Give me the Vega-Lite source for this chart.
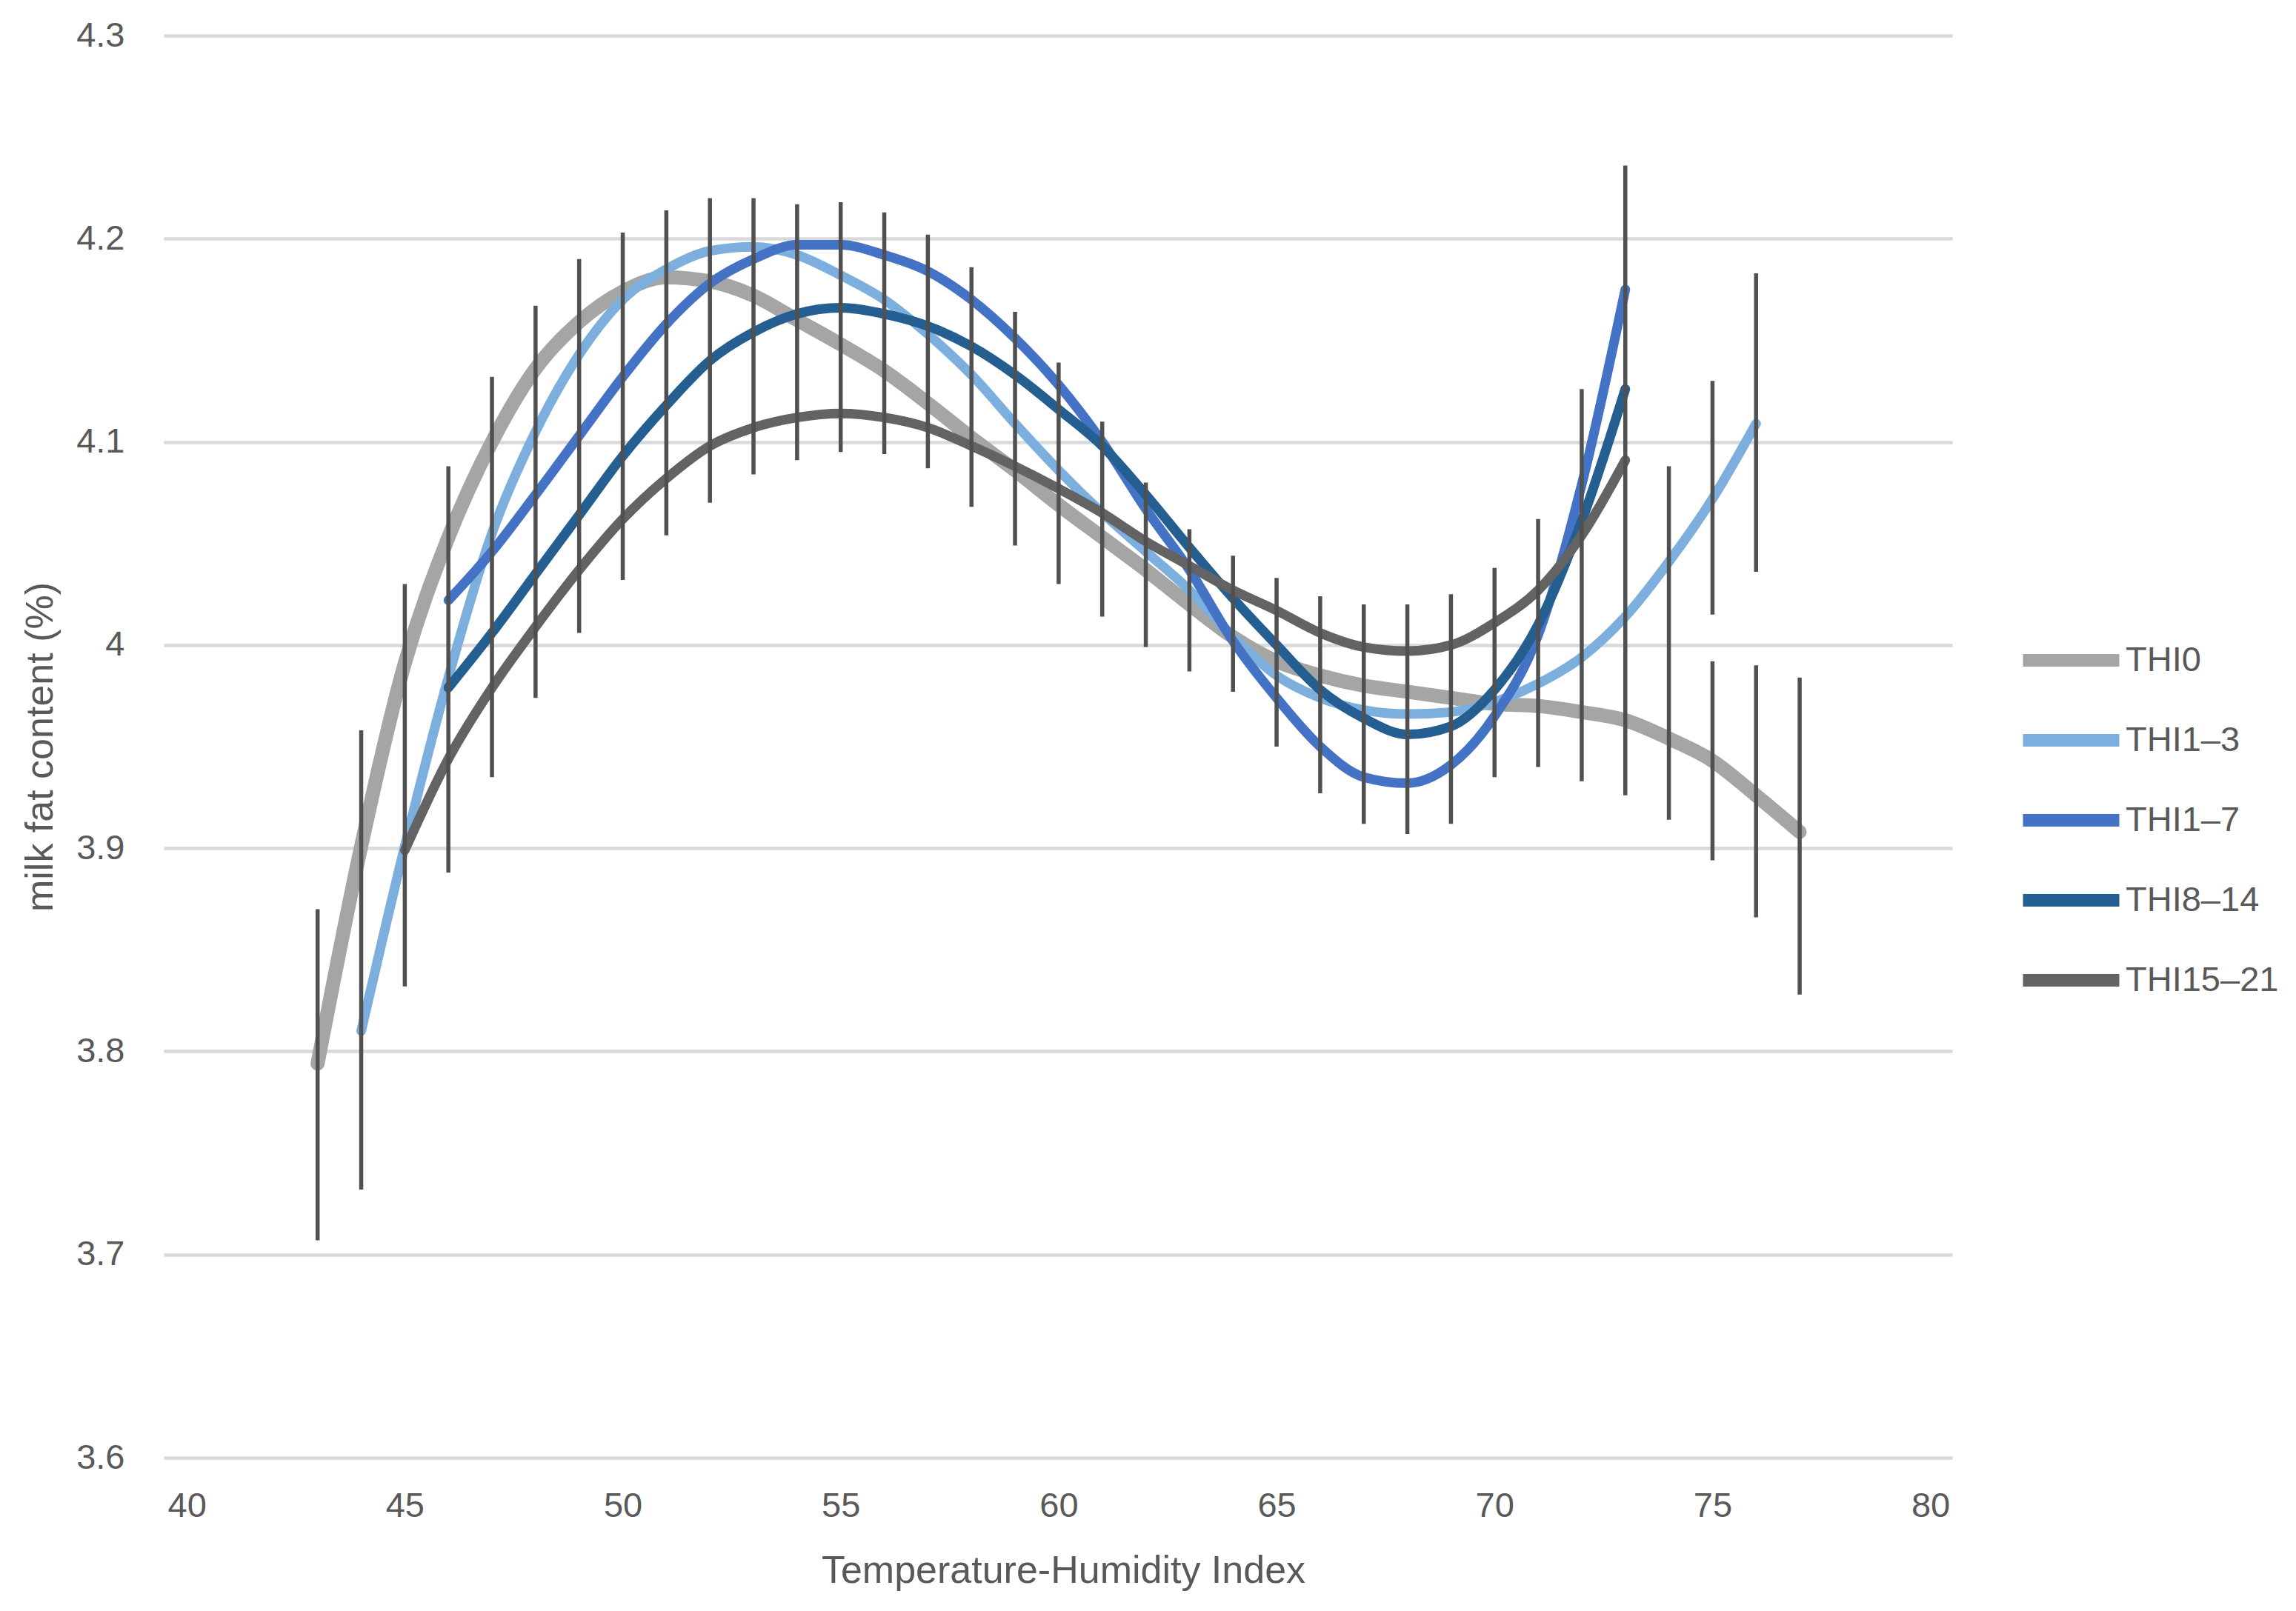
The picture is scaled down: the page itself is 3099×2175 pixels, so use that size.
{
  "$schema": "https://vega.github.io/schema/vega-lite/v6.json",
  "width": 2414,
  "height": 1920,
  "autosize": {"type": "none"},
  "padding": {"left": 221, "top": 48, "right": 464, "bottom": 207},
  "background": "white",
  "datasets": {
    "series": [
      {"thi": 43, "fat": 3.794, "group": "THI0"},
      {"thi": 44, "fat": 3.901, "group": "THI0"},
      {"thi": 45, "fat": 3.991, "group": "THI0"},
      {"thi": 46, "fat": 4.053, "group": "THI0"},
      {"thi": 47, "fat": 4.100, "group": "THI0"},
      {"thi": 48, "fat": 4.136, "group": "THI0"},
      {"thi": 49, "fat": 4.159, "group": "THI0"},
      {"thi": 50, "fat": 4.174, "group": "THI0"},
      {"thi": 51, "fat": 4.181, "group": "THI0"},
      {"thi": 52, "fat": 4.179, "group": "THI0"},
      {"thi": 53, "fat": 4.172, "group": "THI0"},
      {"thi": 54, "fat": 4.160, "group": "THI0"},
      {"thi": 55, "fat": 4.148, "group": "THI0"},
      {"thi": 56, "fat": 4.135, "group": "THI0"},
      {"thi": 57, "fat": 4.119, "group": "THI0"},
      {"thi": 58, "fat": 4.102, "group": "THI0"},
      {"thi": 59, "fat": 4.086, "group": "THI0"},
      {"thi": 60, "fat": 4.069, "group": "THI0"},
      {"thi": 61, "fat": 4.053, "group": "THI0"},
      {"thi": 62, "fat": 4.037, "group": "THI0"},
      {"thi": 63, "fat": 4.020, "group": "THI0"},
      {"thi": 64, "fat": 4.004, "group": "THI0"},
      {"thi": 65, "fat": 3.992, "group": "THI0"},
      {"thi": 66, "fat": 3.985, "group": "THI0"},
      {"thi": 67, "fat": 3.980, "group": "THI0"},
      {"thi": 68, "fat": 3.977, "group": "THI0"},
      {"thi": 69, "fat": 3.974, "group": "THI0"},
      {"thi": 70, "fat": 3.971, "group": "THI0"},
      {"thi": 71, "fat": 3.970, "group": "THI0"},
      {"thi": 72, "fat": 3.967, "group": "THI0"},
      {"thi": 73, "fat": 3.963, "group": "THI0"},
      {"thi": 74, "fat": 3.954, "group": "THI0"},
      {"thi": 75, "fat": 3.943, "group": "THI0"},
      {"thi": 76, "fat": 3.926, "group": "THI0"},
      {"thi": 77, "fat": 3.908, "group": "THI0"},

      {"thi": 44, "fat": 3.810, "group": "THI1–3"},
      {"thi": 45, "fat": 3.901, "group": "THI1–3"},
      {"thi": 46, "fat": 3.984, "group": "THI1–3"},
      {"thi": 47, "fat": 4.055, "group": "THI1–3"},
      {"thi": 48, "fat": 4.105, "group": "THI1–3"},
      {"thi": 49, "fat": 4.143, "group": "THI1–3"},
      {"thi": 50, "fat": 4.170, "group": "THI1–3"},
      {"thi": 51, "fat": 4.185, "group": "THI1–3"},
      {"thi": 52, "fat": 4.194, "group": "THI1–3"},
      {"thi": 53, "fat": 4.196, "group": "THI1–3"},
      {"thi": 54, "fat": 4.192, "group": "THI1–3"},
      {"thi": 55, "fat": 4.182, "group": "THI1–3"},
      {"thi": 56, "fat": 4.170, "group": "THI1–3"},
      {"thi": 57, "fat": 4.153, "group": "THI1–3"},
      {"thi": 58, "fat": 4.133, "group": "THI1–3"},
      {"thi": 59, "fat": 4.109, "group": "THI1–3"},
      {"thi": 60, "fat": 4.086, "group": "THI1–3"},
      {"thi": 61, "fat": 4.065, "group": "THI1–3"},
      {"thi": 62, "fat": 4.046, "group": "THI1–3"},
      {"thi": 63, "fat": 4.027, "group": "THI1–3"},
      {"thi": 64, "fat": 4.004, "group": "THI1–3"},
      {"thi": 65, "fat": 3.985, "group": "THI1–3"},
      {"thi": 66, "fat": 3.974, "group": "THI1–3"},
      {"thi": 67, "fat": 3.968, "group": "THI1–3"},
      {"thi": 68, "fat": 3.966, "group": "THI1–3"},
      {"thi": 69, "fat": 3.967, "group": "THI1–3"},
      {"thi": 70, "fat": 3.972, "group": "THI1–3"},
      {"thi": 71, "fat": 3.981, "group": "THI1–3"},
      {"thi": 72, "fat": 3.994, "group": "THI1–3"},
      {"thi": 73, "fat": 4.014, "group": "THI1–3"},
      {"thi": 74, "fat": 4.041, "group": "THI1–3"},
      {"thi": 75, "fat": 4.072, "group": "THI1–3"},
      {"thi": 76, "fat": 4.109, "group": "THI1–3"},

      {"thi": 46, "fat": 4.022, "group": "THI1–7"},
      {"thi": 47, "fat": 4.046, "group": "THI1–7"},
      {"thi": 48, "fat": 4.074, "group": "THI1–7"},
      {"thi": 49, "fat": 4.103, "group": "THI1–7"},
      {"thi": 50, "fat": 4.132, "group": "THI1–7"},
      {"thi": 51, "fat": 4.158, "group": "THI1–7"},
      {"thi": 52, "fat": 4.178, "group": "THI1–7"},
      {"thi": 53, "fat": 4.190, "group": "THI1–7"},
      {"thi": 54, "fat": 4.197, "group": "THI1–7"},
      {"thi": 55, "fat": 4.197, "group": "THI1–7"},
      {"thi": 56, "fat": 4.192, "group": "THI1–7"},
      {"thi": 57, "fat": 4.184, "group": "THI1–7"},
      {"thi": 58, "fat": 4.170, "group": "THI1–7"},
      {"thi": 59, "fat": 4.151, "group": "THI1–7"},
      {"thi": 60, "fat": 4.128, "group": "THI1–7"},
      {"thi": 61, "fat": 4.100, "group": "THI1–7"},
      {"thi": 62, "fat": 4.067, "group": "THI1–7"},
      {"thi": 63, "fat": 4.037, "group": "THI1–7"},
      {"thi": 64, "fat": 4.002, "group": "THI1–7"},
      {"thi": 65, "fat": 3.974, "group": "THI1–7"},
      {"thi": 66, "fat": 3.950, "group": "THI1–7"},
      {"thi": 67, "fat": 3.935, "group": "THI1–7"},
      {"thi": 68, "fat": 3.932, "group": "THI1–7"},
      {"thi": 69, "fat": 3.941, "group": "THI1–7"},
      {"thi": 70, "fat": 3.965, "group": "THI1–7"},
      {"thi": 71, "fat": 4.005, "group": "THI1–7"},
      {"thi": 72, "fat": 4.079, "group": "THI1–7"},
      {"thi": 73, "fat": 4.175, "group": "THI1–7"},

      {"thi": 46, "fat": 3.979, "group": "THI8–14"},
      {"thi": 47, "fat": 4.006, "group": "THI8–14"},
      {"thi": 48, "fat": 4.035, "group": "THI8–14"},
      {"thi": 49, "fat": 4.064, "group": "THI8–14"},
      {"thi": 50, "fat": 4.093, "group": "THI8–14"},
      {"thi": 51, "fat": 4.118, "group": "THI8–14"},
      {"thi": 52, "fat": 4.140, "group": "THI8–14"},
      {"thi": 53, "fat": 4.154, "group": "THI8–14"},
      {"thi": 54, "fat": 4.163, "group": "THI8–14"},
      {"thi": 55, "fat": 4.166, "group": "THI8–14"},
      {"thi": 56, "fat": 4.163, "group": "THI8–14"},
      {"thi": 57, "fat": 4.157, "group": "THI8–14"},
      {"thi": 58, "fat": 4.147, "group": "THI8–14"},
      {"thi": 59, "fat": 4.133, "group": "THI8–14"},
      {"thi": 60, "fat": 4.116, "group": "THI8–14"},
      {"thi": 61, "fat": 4.098, "group": "THI8–14"},
      {"thi": 62, "fat": 4.074, "group": "THI8–14"},
      {"thi": 63, "fat": 4.048, "group": "THI8–14"},
      {"thi": 64, "fat": 4.023, "group": "THI8–14"},
      {"thi": 65, "fat": 4.000, "group": "THI8–14"},
      {"thi": 66, "fat": 3.978, "group": "THI8–14"},
      {"thi": 67, "fat": 3.964, "group": "THI8–14"},
      {"thi": 68, "fat": 3.956, "group": "THI8–14"},
      {"thi": 69, "fat": 3.960, "group": "THI8–14"},
      {"thi": 70, "fat": 3.978, "group": "THI8–14"},
      {"thi": 71, "fat": 4.010, "group": "THI8–14"},
      {"thi": 72, "fat": 4.061, "group": "THI8–14"},
      {"thi": 73, "fat": 4.126, "group": "THI8–14"},

      {"thi": 45, "fat": 3.899, "group": "THI15–21"},
      {"thi": 46, "fat": 3.944, "group": "THI15–21"},
      {"thi": 47, "fat": 3.979, "group": "THI15–21"},
      {"thi": 48, "fat": 4.009, "group": "THI15–21"},
      {"thi": 49, "fat": 4.037, "group": "THI15–21"},
      {"thi": 50, "fat": 4.062, "group": "THI15–21"},
      {"thi": 51, "fat": 4.082, "group": "THI15–21"},
      {"thi": 52, "fat": 4.098, "group": "THI15–21"},
      {"thi": 53, "fat": 4.107, "group": "THI15–21"},
      {"thi": 54, "fat": 4.112, "group": "THI15–21"},
      {"thi": 55, "fat": 4.114, "group": "THI15–21"},
      {"thi": 56, "fat": 4.112, "group": "THI15–21"},
      {"thi": 57, "fat": 4.107, "group": "THI15–21"},
      {"thi": 58, "fat": 4.098, "group": "THI15–21"},
      {"thi": 59, "fat": 4.088, "group": "THI15–21"},
      {"thi": 60, "fat": 4.077, "group": "THI15–21"},
      {"thi": 61, "fat": 4.065, "group": "THI15–21"},
      {"thi": 62, "fat": 4.051, "group": "THI15–21"},
      {"thi": 63, "fat": 4.039, "group": "THI15–21"},
      {"thi": 64, "fat": 4.027, "group": "THI15–21"},
      {"thi": 65, "fat": 4.017, "group": "THI15–21"},
      {"thi": 66, "fat": 4.006, "group": "THI15–21"},
      {"thi": 67, "fat": 3.999, "group": "THI15–21"},
      {"thi": 68, "fat": 3.997, "group": "THI15–21"},
      {"thi": 69, "fat": 4.000, "group": "THI15–21"},
      {"thi": 70, "fat": 4.011, "group": "THI15–21"},
      {"thi": 71, "fat": 4.027, "group": "THI15–21"},
      {"thi": 72, "fat": 4.054, "group": "THI15–21"},
      {"thi": 73, "fat": 4.091, "group": "THI15–21"}
    ],
    "errors": [
      {"thi": 43, "lo": 3.707, "hi": 3.870},
      {"thi": 44, "lo": 3.732, "hi": 3.958},
      {"thi": 45, "lo": 3.832, "hi": 4.030},
      {"thi": 46, "lo": 3.888, "hi": 4.088},
      {"thi": 47, "lo": 3.935, "hi": 4.132},
      {"thi": 48, "lo": 3.974, "hi": 4.167},
      {"thi": 49, "lo": 4.006, "hi": 4.190},
      {"thi": 50, "lo": 4.032, "hi": 4.203},
      {"thi": 51, "lo": 4.054, "hi": 4.214},
      {"thi": 52, "lo": 4.070, "hi": 4.220},
      {"thi": 53, "lo": 4.084, "hi": 4.220},
      {"thi": 54, "lo": 4.091, "hi": 4.217},
      {"thi": 55, "lo": 4.095, "hi": 4.218},
      {"thi": 56, "lo": 4.094, "hi": 4.213},
      {"thi": 57, "lo": 4.087, "hi": 4.202},
      {"thi": 58, "lo": 4.068, "hi": 4.186},
      {"thi": 59, "lo": 4.049, "hi": 4.164},
      {"thi": 60, "lo": 4.030, "hi": 4.139},
      {"thi": 61, "lo": 4.014, "hi": 4.110},
      {"thi": 62, "lo": 3.999, "hi": 4.080},
      {"thi": 63, "lo": 3.987, "hi": 4.057},
      {"thi": 64, "lo": 3.977, "hi": 4.044},
      {"thi": 65, "lo": 3.950, "hi": 4.033},
      {"thi": 66, "lo": 3.927, "hi": 4.024},
      {"thi": 67, "lo": 3.912, "hi": 4.020},
      {"thi": 68, "lo": 3.907, "hi": 4.020},
      {"thi": 69, "lo": 3.912, "hi": 4.025},
      {"thi": 70, "lo": 3.935, "hi": 4.038},
      {"thi": 71, "lo": 3.940, "hi": 4.062},
      {"thi": 72, "lo": 3.933, "hi": 4.126},
      {"thi": 73, "lo": 3.926, "hi": 4.236},
      {"thi": 74, "lo": 3.914, "hi": 4.088},
      {"thi": 75, "lo": 3.894, "hi": 3.992},
      {"thi": 75, "lo": 4.015, "hi": 4.130},
      {"thi": 76, "lo": 3.866, "hi": 3.990},
      {"thi": 76, "lo": 4.036, "hi": 4.183},
      {"thi": 77, "lo": 3.828, "hi": 3.984}
    ]
  },
  "layer": [
    {
      "data": {"name": "series"},
      "mark": {"type": "line", "interpolate": "monotone", "strokeCap": "round", "strokeJoin": "round"},
      "encoding": {
        "x": {
          "field": "thi", "type": "quantitative",
          "scale": {"domain": [39.47, 80.5], "nice": false, "zero": false},
          "axis": {
            "values": [40, 45, 50, 55, 60, 65, 70, 75, 80],
            "format": "d",
            "grid": false, "domain": false, "ticks": false, "tickSize": 0,
            "labelPadding": 65, "labelBaseline": "middle",
            "title": "Temperature-Humidity Index",
            "titleX": 1214, "titleY": 152, "titleBaseline": "middle", "titleAlign": "center"
          }
        },
        "y": {
          "field": "fat", "type": "quantitative",
          "scale": {"domain": [3.6, 4.3], "nice": false, "zero": false},
          "axis": {
            "values": [3.6, 3.7, 3.8, 3.9, 4.0, 4.1, 4.2, 4.3],
            "format": ".1~f",
            "grid": true, "domain": false, "ticks": false, "tickSize": 0,
            "labelPadding": 53,
            "title": "milk fat content (%)",
            "titleX": -167, "titleY": 960, "titleBaseline": "middle", "titleAlign": "center", "titleAngle": -90
          }
        },
        "color": {
          "field": "group", "type": "nominal",
          "scale": {
            "domain": ["THI0", "THI1–3", "THI1–7", "THI8–14", "THI15–21"],
            "range": ["#A5A5A5", "#7CAFDD", "#4472C4", "#255E91", "#636363"]
          },
          "legend": {
            "title": null,
            "orient": "none",
            "legendX": 2501,
            "legendY": 770,
            "symbolType": "stroke",
            "symbolSize": 16900,
            "symbolStrokeWidth": 17,
            "labelOffset": 0,
            "labelLimit": 400,
            "rowPadding": 0
          }
        },
        "strokeWidth": {
          "condition": {"test": "datum.group == 'THI0'", "value": 19},
          "value": 13
        }
      }
    },
    {
      "data": {"name": "errors"},
      "mark": {"type": "rule", "color": "#505050", "strokeWidth": 5.5},
      "encoding": {
        "x": {"field": "thi", "type": "quantitative"},
        "y": {"field": "lo", "type": "quantitative"},
        "y2": {"field": "hi"}
      }
    }
  ],
  "config": {
    "font": "Liberation Sans",
    "view": {"stroke": null},
    "axis": {
      "labelFont": "Liberation Sans",
      "labelFontSize": 47,
      "labelColor": "#595959",
      "titleFont": "Liberation Sans",
      "titleFontSize": 52,
      "titleFontWeight": "normal",
      "titleColor": "#595959",
      "gridColor": "#D9D9D9",
      "gridWidth": 4.5,
      "gridOpacity": 1
    },
    "legend": {
      "labelFont": "Liberation Sans",
      "labelFontSize": 47,
      "labelColor": "#595959"
    }
  }
}
